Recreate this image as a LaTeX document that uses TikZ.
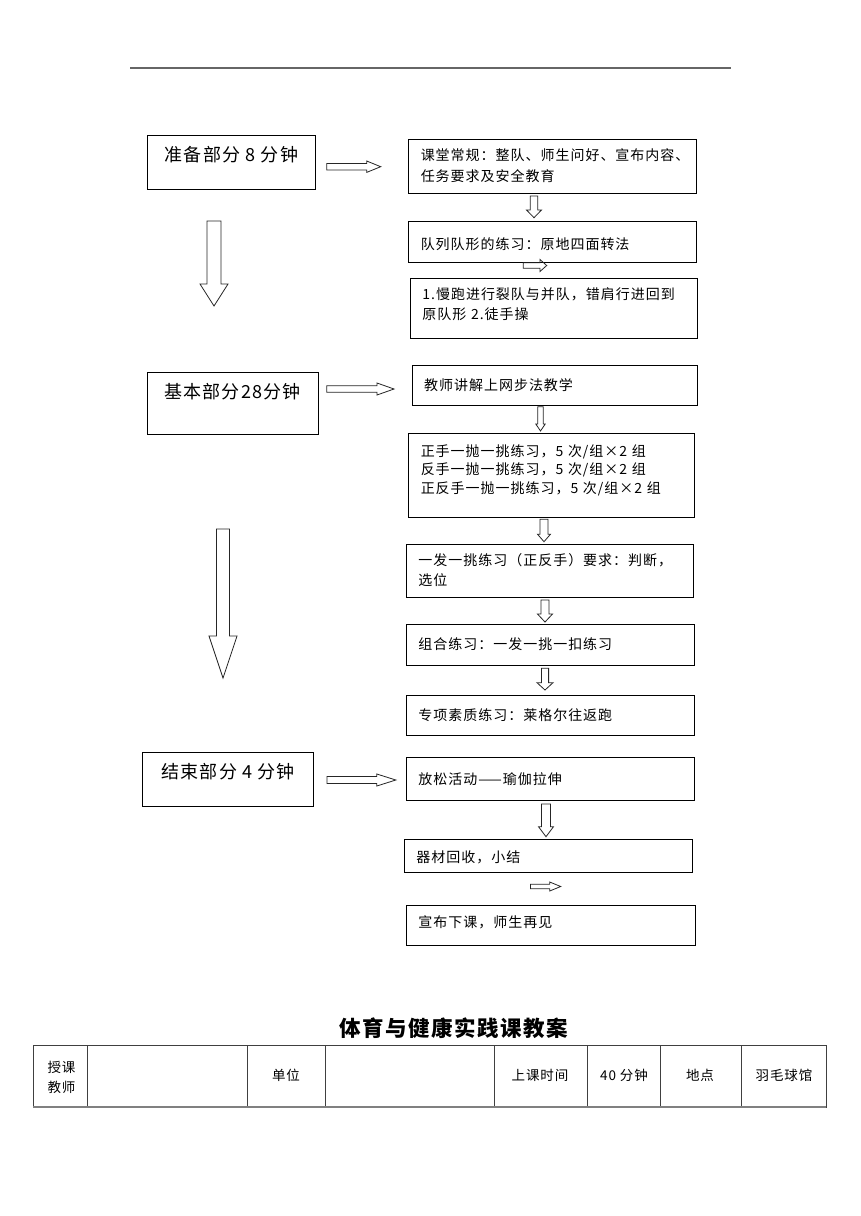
\documentclass[tikz,border=0pt]{standalone}
\usepackage{fontspec}
\setmainfont{Noto Sans CJK SC}[LetterSpace=7]
\usepackage{tikz}
\usetikzlibrary{positioning, calc}

\newcommand{\blockarrow}[5]{%
  \coordinate (ba) at ($#2!#5!#1$);
  \draw[arrowline] ($#1!#3!90:#2$) -- ($(ba)!#3!90:#2$) -- ($(ba)!#4!90:#2$) -- #2
    -- ($(ba)!#4!-90:#2$) -- ($(ba)!#3!-90:#2$) -- ($#1!#3!-90:#2$) -- cycle;}

\begin{document}
\begin{tikzpicture}[x=1pt, y=-1pt,
    partbox/.style={draw, line width=.9pt, anchor=north west, inner xsep=0pt, inner ysep=0pt, font=\fontsize{18}{22}\selectfont},
    stepbox/.style={draw, line width=.9pt, anchor=north west, inner xsep=12pt, inner ysep=0pt, align=left, font=\fontsize{14}{19.3}\selectfont},
    arrowline/.style={draw=black!85, line width=.8pt},
    tableline/.style={draw=black!75, line width=.8pt},
    cell/.style={font=\fontsize{13.5}{20}\selectfont}]
        \path[use as bounding box, fill=white] (0,0) rectangle (860,1216);
        \draw[black!60, line width=1.6pt] (130,68) -- (731,68);

        % left column
        \node[partbox, minimum width=167.2, text height=25.8, text depth=28.2] (box 0) at (147.3,135) {准备部分 8 分钟};
        \node[partbox, minimum width=170.8, text height=27, text depth=35.8] (box 4) at (146.7,371.5) {基本部分28分钟};
        \node[partbox, minimum width=170.6, text height=26.5, text depth=27.2] (box 10) at (142.3,752) {结束部分 4 分钟};

        % right column
        \node[stepbox, text width=263.4, text height=21, text depth=33, font=\fontsize{14}{21}\selectfont] (box 1) at (408.3,139.3) {课堂常规：整队、师生问好、宣布内容、\\任务要求及安全教育};
        \node[stepbox, text width=263.7, text height=27.9, text depth=13.1] (box 2) at (408.3,220.7) {队列队形的练习：原地四面转法};
        \node[stepbox, text width=262.7, text height=21, text depth=39] (box 3) at (410,278.3) {1.慢跑进行裂队与并队，错肩行进回到\\原队形 2.徒手操};
        \node[stepbox, text width=261.6, text height=25.3, text depth=14.7] (box 5) at (411.7,365) {教师讲解上网步法教学};
        \node[stepbox, text width=261.7, text height=22.7, text depth=60.7, font=\fontsize{14}{18.3}\selectfont] (box 6) at (408.3,433.3) {正手一抛一挑练习，5 次/组×2 组\\反手一抛一挑练习，5 次/组×2 组\\正反手一抛一挑练习，5 次/组×2 组};
        \node[stepbox, text width=263.3, text height=21.3, text depth=32] (box 7) at (406,544) {一发一挑练习（正反手）要求：判断，\\选位};
        \node[stepbox, text width=264, text height=25.3, text depth=15.7] (box 8) at (406,624) {组合练习：一发一挑一扣练习};
        \node[stepbox, text width=264, text height=25.3, text depth=14.2] (box 9) at (406,695) {专项素质练习：莱格尔往返跑};
        \node[stepbox, text width=263.5, text height=27, text depth=15.7] (box 11) at (406,757.3) {放松活动——瑜伽拉伸};
        \node[stepbox, text width=264, text height=22.7, text depth=9.7] (box 12) at (404,839.3) {器材回收，小结};
        \node[stepbox, text width=264.5, text height=22, text depth=18] (box 13) at (406,905) {宣布下课，师生再见};

        % block arrows
        \foreach \i/\xa/\ya/\xb/\yb/\shaft/\head/\len in {
            0/326.7/166.7/380.7/166.7/3.3pt/5.7pt/14pt,
            1/214/221/214/306/7pt/14pt/22pt,
            2/534/196/534/217.7/3.8pt/7.5pt/7.7pt,
            3/523.3/265.5/546.7/265.5/2.8pt/6pt/6.7pt,
            4/326.7/389/394/389/3.3pt/6pt/17pt,
            5/540.5/406.7/540.5/431/2.8pt/4.7pt/7pt,
            6/544/519.3/544/541.7/4pt/6.5pt/7.5pt,
            7/545/600/545/622/4pt/7.5pt/8pt,
            8/223/529/223/678/6.5pt/14pt/42pt,
            9/545/668.3/545/690/3.6pt/8pt/7.3pt,
            10/327/780/395.8/780/3.5pt/6pt/19pt,
            11/546/804/546/836.7/4.5pt/7.5pt/10pt,
            12/530.5/886.5/560.7/886.5/2.3pt/4.5pt/11pt}
        {
            \coordinate (arr \i a) at (\xa,\ya);
            \coordinate (arr \i b) at (\xb,\yb);
            \blockarrow{(arr \i a)}{(arr \i b)}{\shaft}{\head}{\len}
        }

        % table
        \node[font=\bfseries\fontsize{21.5}{24}\selectfont] (title) at (454,1028) {体育与健康实践课教案};
        \draw[tableline] (33,1045) rectangle (826,1107);
        \foreach \x in {87, 247, 325, 494, 587, 660, 741}
        \draw[tableline] (\x,1045) -- (\x,1107);
        \draw[gray, line width=1.6pt] (33,1107) -- (826,1107);

        \node[cell, align=left, anchor=west] (cell 0) at (44,1077) {授课\\教师};
        \node[cell] (cell 1) at (286,1075) {单位};
        \node[cell] (cell 2) at (540,1075) {上课时间};
        \node[cell] (cell 3) at (624,1075) {40 分钟};
        \node[cell] (cell 4) at (700,1075) {地点};
        \node[cell] (cell 5) at (784,1075) {羽毛球馆};
\end{tikzpicture}
\end{document}
